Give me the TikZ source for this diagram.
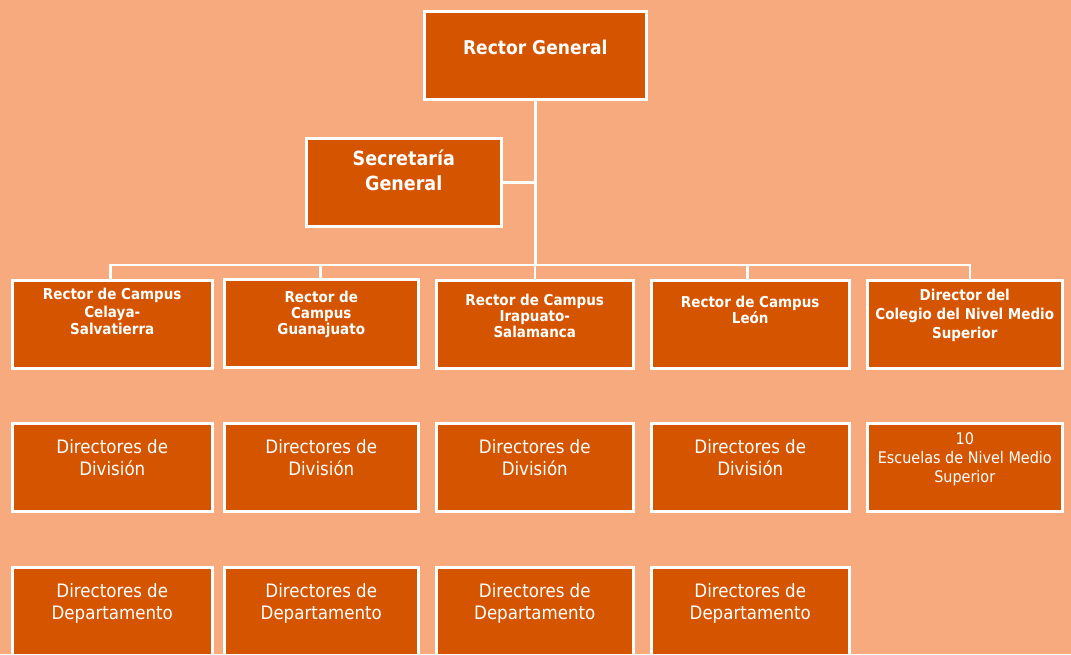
\documentclass[tikz,border=0pt]{standalone}
\usepackage{fontspec}
\setmainfont{DejaVu Sans}[FakeStretch=0.9]
\usepackage{tikz}
\usepackage{xcolor}
\definecolor{bgpeach}{RGB}{246,170,125}
\definecolor{boxorange}{RGB}{213,84,0}
\newcommand{\orgtext}[5]{\begin{minipage}[c][88pt][t]{#1pt}\centering\fontsize{#3}{#4}\selectfont\vspace*{#2pt}#5\end{minipage}}
\tikzset{
    org-box/.style = {draw=white, fill=boxorange, line width=2.5pt, rectangle, inner sep=0pt, anchor=north west, text=white},
    org-line/.style = {draw=white, line width=2.5pt},
}
\begin{document}
\begin{tikzpicture}[x=1pt,y=-1pt]
\fill[bgpeach] (0,0) rectangle (1071,654);
\useasboundingbox (0,0) rectangle (1071,654);
\clip (0,0) rectangle (1071,654);
\coordinate (bus) at (0,265);

\node[org-box] (rg) at (423,10) {\orgtext{222}{29}{19}{23}{\bfseries Rector General}};
\node[org-box] (sg) at (305,137) {\orgtext{195}{12}{19.5}{25}{\bfseries Secretaría\\General}};

\node[org-box] (rc1) at (11,279) {\orgtext{200}{8}{15}{17.5}{\bfseries Rector de Campus\\Celaya-\\Salvatierra}};
\node[org-box] (rc2) at (223,278) {\orgtext{194}{12}{15}{16}{\bfseries Rector de\\Campus\\Guanajuato}};
\node[org-box] (rc3) at (435,279) {\orgtext{197}{14}{15}{16}{\bfseries Rector de Campus\\Irapuato-\\Salamanca}};
\node[org-box] (rc4) at (650,279) {\orgtext{198}{16}{15}{16}{\bfseries Rector de Campus\\León}};
\node[org-box] (dc) at (866,279) {\orgtext{195}{9}{15}{19}{\bfseries Director del\\Colegio del Nivel Medio\\Superior}};

\foreach \x/\w/\n in {11/200/1, 223/194/2, 435/197/3, 650/198/4} {
    \node[org-box] (dv\n) at (\x,422) {\orgtext{\w}{16}{18.5}{22}{Directores de\\División}};
    \node[org-box] (dp\n) at (\x,566) {\orgtext{\w}{16}{18.5}{22}{Directores de\\Departamento}};
}
\node[org-box] (esc) at (866,422) {\orgtext{195}{9}{16}{19}{10\\Escuelas de Nivel Medio\\Superior}};

\draw[org-line] (rg.south) -- (rg.south |- bus);
\foreach \n/\s in {rc1/-2, rc2/-1, rc3/0, rc4/-3, dc/5}
    \draw[org-line] (rg.south |- bus) -| ([xshift=\s pt]\n.north);
\draw[org-line] (sg.east) -- (sg.east -| rg.south);
\end{tikzpicture}
\end{document}
